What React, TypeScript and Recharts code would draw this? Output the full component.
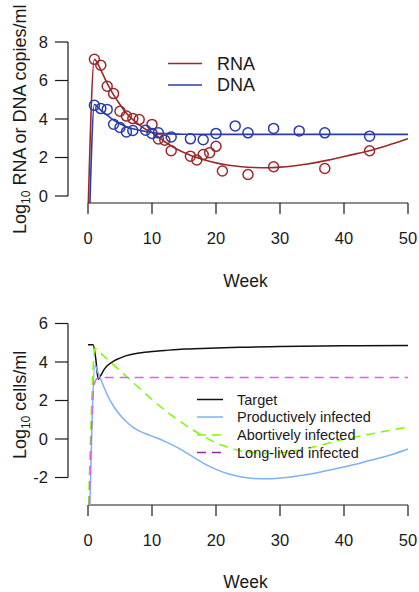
import React from 'react';
import { ComposedChart, Line, Scatter, XAxis, YAxis, ReferenceLine } from 'recharts';

const FONT = '"Liberation Sans", Arial, Helvetica, sans-serif';
const INK = '#1a1a1a';
const RED = '#9a2a2a';
const BLUE = '#2b3baa';
const TARGET = '#111111';
const PROD = '#7eb2f7';
const ABORT = '#7cfc00';
const LONG = '#e35cf0';
const LONG_LEG = '#8e2c9e';

// ---------- top panel data ----------
const weekTicks = [0, 10, 20, 30, 40, 50];
const topYTicks = [0, 2, 4, 6, 8];
const bottomYTicks = [-2, 0, 2, 4, 6];

const rnaObsWeeks = [1, 2, 3, 4, 5, 6, 7, 8, 10, 11, 12, 13, 16, 17, 18, 19, 20, 21, 25, 29, 37, 44];
const rnaObsValues = [7.1, 6.79, 5.7, 5.32, 4.4, 4.15, 4.02, 3.97, 3.72, 2.96, 2.9, 2.35, 2.07, 1.87, 2.15, 2.25, 2.58, 1.3, 1.12, 1.52, 1.43, 2.35];

const dnaObsWeeks = [1, 2, 3, 4, 5, 6, 7, 9, 10, 11, 13, 16, 18, 20, 23, 25, 29, 33, 37, 44];
const dnaObsValues = [4.71, 4.54, 4.5, 3.73, 3.56, 3.33, 3.4, 3.42, 3.25, 3.28, 3.07, 2.97, 2.92, 3.25, 3.64, 3.28, 3.51, 3.38, 3.28, 3.11];

const rnaFitWeeks = [0.05, 1, 2, 3, 4, 5, 6, 7, 8, 9, 10, 12, 14, 16, 18, 20, 22, 24, 26, 28, 30, 32, 34, 36, 38, 40, 42, 44, 46, 48, 50];
const rnaFitValues = [-0.36, 7.1, 6.55, 5.85, 5.25, 4.75, 4.3, 3.97, 3.7, 3.47, 3.3, 2.82, 2.42, 2.12, 1.9, 1.72, 1.6, 1.52, 1.48, 1.47, 1.5, 1.56, 1.65, 1.76, 1.9, 2.05, 2.2, 2.35, 2.55, 2.75, 2.97];

const dnaFitWeeks = [0.3, 1, 2, 3, 4, 5, 6, 8, 10, 12, 15, 20, 50];
const dnaFitValues = [-0.36, 4.75, 4.45, 4.2, 3.95, 3.75, 3.6, 3.42, 3.3, 3.24, 3.21, 3.2, 3.2];

// ---------- bottom panel data ----------
const targetWeeks = [0, 0.8, 1.2, 1.6, 2, 2.5, 3, 4, 5, 6, 8, 10, 12, 15, 20, 25, 30, 40, 50];
const targetValues = [4.9, 4.9, 4.2, 3.1, 3.3, 3.6, 3.8, 4.05, 4.2, 4.33, 4.47, 4.55, 4.6, 4.67, 4.73, 4.77, 4.8, 4.84, 4.86];

const prodWeeks = [0.3, 1.1, 1.5, 2, 3, 4, 5, 6, 7, 8, 10, 12, 14, 16, 18, 20, 22, 24, 26, 28, 30, 32, 34, 36, 38, 40, 42, 44, 46, 48, 50];
const prodValues = [-3.43, 3.85, 3.5, 3.1, 2.3, 1.7, 1.25, 0.9, 0.62, 0.42, 0.15, -0.12, -0.45, -0.85, -1.25, -1.58, -1.82, -1.97, -2.05, -2.07, -2.03, -1.96, -1.86, -1.74, -1.6, -1.45, -1.3, -1.12, -0.95, -0.75, -0.52];

const abortWeeks = [0.1, 1.1, 2, 4, 6, 8, 10, 12, 14, 16, 18, 20, 22, 24, 26, 28, 30, 32, 34, 36, 38, 40, 42, 44, 46, 48, 50];
const abortValues = [-3.43, 4.72, 4.45, 3.85, 3.25, 2.65, 2.05, 1.5, 1.0, 0.55, 0.15, -0.2, -0.45, -0.62, -0.72, -0.75, -0.72, -0.62, -0.5, -0.35, -0.18, -0.02, 0.12, 0.25, 0.38, 0.5, 0.62];

const longWeeks = [0.2, 1, 1.5, 2, 3, 50];
const longValues = [-3.43, 2.9, 3.15, 3.18, 3.2, 3.2];

const rnaLegend = ['RNA', 'DNA'];
const cellLegend = ['Target', 'Productively infected', 'Abortively infected', 'Long-lived infected'];

const toPts = (ws: number[], vs: number[]) => ws.map((w, i) => ({ w, v: vs[i] }));

const rnaObs = toPts(rnaObsWeeks, rnaObsValues);
const dnaObs = toPts(dnaObsWeeks, dnaObsValues);
const rnaFit = toPts(rnaFitWeeks, rnaFitValues);
const dnaFit = toPts(dnaFitWeeks, dnaFitValues);
const target = toPts(targetWeeks, targetValues);
const prod = toPts(prodWeeks, prodValues);
const abort = toPts(abortWeeks, abortValues);
const longLived = toPts(longWeeks, longValues);

const X_DOMAIN: [number, number] = [-3.125, 50.5];
const TOP_Y: [number, number] = [-0.3636, 8.338];
const BOT_Y: [number, number] = [-3.4286, 6.35];

const ring = (color: string) => (props: any) => (
  <circle cx={props.cx} cy={props.cy} r={5} fill="none" stroke={color} strokeWidth={1.5} />
);

const tickStyle = { fontSize: 16.5, fill: INK, fontFamily: FONT };

const yTitle = (main: string, cx: number, shift: number) => (props: any) => {
  const vb = props.viewBox || {};
  const cy = (vb.y ?? 0) + (vb.height ?? 0) / 2 + shift;
  return (
    <text
      x={cx}
      y={cy}
      transform={`rotate(-90, ${cx}, ${cy})`}
      textAnchor="middle"
      fontSize={18}
      fontFamily={FONT}
      fill={INK}
    >
      Log<tspan fontSize={12} dy={4}>10</tspan>
      <tspan dy={-4}>{main}</tspan>
    </text>
  );
};

const topXLabel = () => (
  <g fontFamily={FONT} fill={INK}>
    <text x={245.5} y={286.5} textAnchor="middle" fontSize={17.5}>Week</text>
    <line x1={168} x2={202} y1={63.5} y2={63.5} stroke={RED} strokeWidth={1.5} />
    <line x1={168} x2={202} y1={85} y2={85} stroke={BLUE} strokeWidth={1.5} />
    <text x={217} y={63.5} dy="0.36em" fontSize={18}>{rnaLegend[0]}</text>
    <text x={217} y={85} dy="0.36em" fontSize={18}>{rnaLegend[1]}</text>
  </g>
);

const legendRows = [
  { color: TARGET, dash: undefined as string | undefined, y: 103.5 },
  { color: PROD, dash: undefined as string | undefined, y: 121 },
  { color: ABORT, dash: '9 6', y: 139 },
  { color: LONG_LEG, dash: '9 6', y: 156.5 },
];

const bottomXLabel = () => (
  <g fontFamily={FONT} fill={INK}>
    <text x={245.5} y={292} textAnchor="middle" fontSize={17.5}>Week</text>
    {legendRows.map((r, i) => (
      <g key={i}>
        <line x1={197} x2={223} y1={r.y} y2={r.y} stroke={r.color} strokeWidth={1.5} strokeDasharray={r.dash} />
        <text x={237} y={r.y} dy="0.36em" fontSize={14.5}>{cellLegend[i]}</text>
      </g>
    ))}
  </g>
);

export default function App() {
  return (
    <div style={{ position: 'absolute', left: 0, top: 0, width: 419, height: 592, background: '#fff' }}>
      <ComposedChart width={419} height={296} margin={{ top: 35.5, right: 7.8, bottom: 0, left: 0 }}>
        <XAxis
          type="number"
          dataKey="w"
          domain={X_DOMAIN}
          allowDataOverflow
          ticks={weekTicks}
          interval={0}
          height={93}
          axisLine={false}
          tickLine={{ stroke: INK, strokeWidth: 1.2 }}
          tickSize={11}
          tickMargin={18}
          tick={tickStyle}
          label={{ content: topXLabel }}
        />
        <YAxis
          type="number"
          dataKey="v"
          domain={TOP_Y}
          allowDataOverflow
          ticks={topYTicks}
          interval={0}
          width={68}
          axisLine={false}
          tickLine={{ stroke: INK, strokeWidth: 1.2 }}
          tickSize={13}
          tickMargin={7}
          tick={tickStyle}
          label={{ content: yTitle(' RNA or DNA copies/ml', 26, 0) }}
        />
        <ReferenceLine segment={[{ x: X_DOMAIN[0], y: 0 }, { x: X_DOMAIN[0], y: 8 }]} stroke={INK} strokeWidth={1.2} ifOverflow="visible" />
        <ReferenceLine segment={[{ x: 0, y: TOP_Y[0] }, { x: 50, y: TOP_Y[0] }]} stroke={INK} strokeWidth={1.2} ifOverflow="visible" />
        <Line data={rnaFit} dataKey="v" type="monotone" stroke={RED} strokeWidth={1.6} dot={false} isAnimationActive={false} />
        <Line data={dnaFit} dataKey="v" type="monotone" stroke={BLUE} strokeWidth={1.6} dot={false} isAnimationActive={false} />
        <Scatter data={rnaObs} dataKey="v" shape={ring(RED)} isAnimationActive={false} />
        <Scatter data={dnaObs} dataKey="v" shape={ring(BLUE)} isAnimationActive={false} />
      </ComposedChart>
      <ComposedChart width={419} height={296} margin={{ top: 20.76, right: 7.8, bottom: 0, left: 0 }}>
        <XAxis
          type="number"
          dataKey="w"
          domain={X_DOMAIN}
          allowDataOverflow
          ticks={weekTicks}
          interval={0}
          height={87}
          axisLine={false}
          tickLine={{ stroke: INK, strokeWidth: 1.2 }}
          tickSize={11}
          tickMargin={18}
          tick={tickStyle}
          label={{ content: bottomXLabel }}
        />
        <YAxis
          type="number"
          dataKey="v"
          domain={BOT_Y}
          allowDataOverflow
          ticks={bottomYTicks}
          interval={0}
          width={68}
          axisLine={false}
          tickLine={{ stroke: INK, strokeWidth: 1.2 }}
          tickSize={13}
          tickMargin={7}
          tick={tickStyle}
          label={{ content: yTitle(' cells/ml', 26, -6) }}
        />
        <ReferenceLine segment={[{ x: X_DOMAIN[0], y: -2 }, { x: X_DOMAIN[0], y: 6 }]} stroke={INK} strokeWidth={1.2} ifOverflow="visible" />
        <ReferenceLine segment={[{ x: 0, y: BOT_Y[0] }, { x: 50, y: BOT_Y[0] }]} stroke={INK} strokeWidth={1.2} ifOverflow="visible" />
        <Line data={target} dataKey="v" type="monotone" stroke={TARGET} strokeWidth={1.5} dot={false} isAnimationActive={false} />
        <Line data={prod} dataKey="v" type="monotone" stroke={PROD} strokeWidth={1.5} dot={false} isAnimationActive={false} />
        <Line data={abort} dataKey="v" type="monotone" stroke={ABORT} strokeWidth={1.5} strokeDasharray="9 6" dot={false} isAnimationActive={false} />
        <Line data={longLived} dataKey="v" type="monotone" stroke={LONG} strokeWidth={1.5} strokeDasharray="9 6" dot={false} isAnimationActive={false} />
      </ComposedChart>
    </div>
  );
}
